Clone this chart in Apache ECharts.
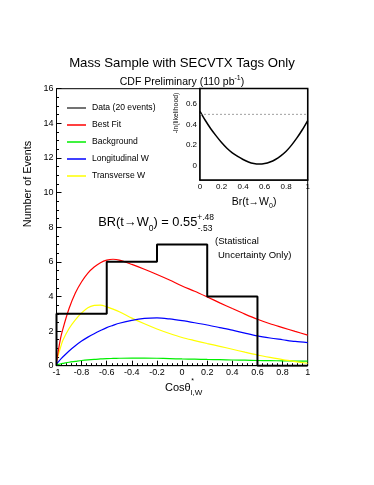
<!DOCTYPE html>
<html><head><meta charset="utf-8">
<script src="https://cdn.jsdelivr.net/npm/echarts@6/dist/echarts.min.js"></script>
<style>html,body{margin:0;padding:0;background:#fff}#c{width:374px;height:485px}</style>
</head><body><div id="c"></div>
<script>
// ---- data ----
const binEdges = [-1, -0.6, -0.2, 0.2, 0.6, 1];
const dataCounts = [3, 6, 7, 4, 0];
const curveX = [-1, -0.97, -0.95, -0.9, -0.85, -0.8, -0.75, -0.7, -0.65, -0.6, -0.55, -0.5, -0.4, -0.3, -0.2, -0.1, 0, 0.1, 0.2, 0.3, 0.4, 0.5, 0.6, 0.7, 0.8, 0.9, 1];
const bestFit = [0.2, 1.5, 2.1, 3.3, 4.2, 4.85, 5.35, 5.7, 5.95, 6.1, 6.15, 6.1, 5.85, 5.57, 5.27, 4.95, 4.6, 4.3, 3.97, 3.63, 3.3, 2.98, 2.68, 2.42, 2.2, 1.98, 1.77];
const background = [0.05, 0.1, 0.13, 0.2, 0.25, 0.3, 0.34, 0.37, 0.39, 0.41, 0.42, 0.43, 0.44, 0.44, 0.43, 0.41, 0.39, 0.38, 0.36, 0.35, 0.33, 0.32, 0.3, 0.29, 0.28, 0.27, 0.26];
const longitudinal = [0.1, 0.35, 0.5, 0.85, 1.15, 1.42, 1.65, 1.85, 2.03, 2.2, 2.33, 2.45, 2.62, 2.73, 2.76, 2.7, 2.6, 2.48, 2.35, 2.2, 2.05, 1.88, 1.72, 1.6, 1.5, 1.4, 1.33];
const transverse = [0.3, 1.0, 1.45, 2.15, 2.65, 3.05, 3.35, 3.48, 3.5, 3.4, 3.27, 3.12, 2.75, 2.42, 2.12, 1.86, 1.63, 1.45, 1.28, 1.12, 0.95, 0.78, 0.62, 0.48, 0.35, 0.24, 0.14];
const likeX = [0, 0.05, 0.1, 0.15, 0.2, 0.25, 0.3, 0.35, 0.4, 0.45, 0.5, 0.55, 0.6, 0.65, 0.7, 0.75, 0.8, 0.85, 0.9, 0.95, 1];
const likeY = [0.53, 0.44, 0.36, 0.29, 0.225, 0.17, 0.125, 0.09, 0.06, 0.035, 0.02, 0.015, 0.02, 0.035, 0.06, 0.095, 0.14, 0.2, 0.27, 0.35, 0.44];
const halfUnitLevel = 0.5;
const insetYLabels = [0, 0.2, 0.4, 0.6];
const insetYMinor = [-0.1, -0.05, 0.05, 0.1, 0.15, 0.25, 0.3, 0.35, 0.45, 0.5, 0.55, 0.65, 0.7];
const legendNames = ['Data (20 events)', 'Best Fit', 'Background', 'Longitudinal W', 'Transverse W'];

// ---- build ----
const histPts = [[binEdges[0], 0]];
dataCounts.forEach((c, i) => { histPts.push([binEdges[i], c]); histPts.push([binEdges[i + 1], c]); });
histPts.push([binEdges[binEdges.length - 1], 0]);
const pair = (xs, ys) => xs.map((x, i) => [x, ys[i]]);

const FONT = '"Liberation Sans", Arial, Helvetica, sans-serif';
const mctx = document.createElement('canvas').getContext('2d');
function tw(t, fs) { mctx.font = fs + 'px ' + FONT; return mctx.measureText(t).width; }
function txt(t, x, y, fs, align, extra) {
  return Object.assign({ type: 'text', x, y, style: { text: t, fontSize: fs, fontFamily: FONT, fill: '#000', textAlign: align || 'left', textVerticalAlign: 'middle' } }, extra || {});
}
// parts: {t, fs, y, hold} ; hold = do not advance (stacked scripts)
function comp(parts, x0, center) {
  let total = 0, hw = 0;
  parts.forEach(p => { const w = tw(p.t, p.fs); if (p.hold) { hw = Math.max(hw, w); } else { total += Math.max(w, hw); hw = 0; } });
  total += hw;
  let x = center ? x0 - total / 2 : x0;
  const out = []; hw = 0;
  parts.forEach(p => {
    const w = tw(p.t, p.fs);
    out.push(txt(p.t, x + (p.dx || 0), p.y, p.fs));
    if (p.hold) { hw = Math.max(hw, w); } else { x += Math.max(w, hw); hw = 0; }
  });
  return out;
}

const chart = echarts.init(document.getElementById('c'), null, { renderer: 'canvas' });

function curve(name, ys, color) {
  return { name, type: 'line', xAxisIndex: 0, yAxisIndex: 0, data: pair(curveX, ys), smooth: 0.3,
    showSymbol: false, symbol: 'none', lineStyle: { color, width: 1.2 }, itemStyle: { color }, z: 3 };
}

const graphics = [
  txt('Mass Sample with SECVTX Tags Only', 182, 63, 13.2, 'center'),
  ...comp([{ t: 'CDF Preliminary (110 pb', fs: 10.5, y: 82 }, { t: '-1', fs: 7, y: 78.5 }, { t: ')', fs: 10.5, y: 82 }], 182, true),
  txt('Number of Events', 28, 184, 10.8, 'center', { rotation: Math.PI / 2 }),
  ...comp([{ t: 'Cosθ', fs: 11, y: 388 }, { t: '*', fs: 7, y: 381.5, hold: true, dx: 0.5 }, { t: 'l,W', fs: 8, y: 392.5 }], 165, false),
  txt('-ln(likelihood)', 176, 113, 6.8, 'center', { rotation: Math.PI / 2 }),
  ...comp([{ t: 'Br(t→W', fs: 10.5, y: 202.5 }, { t: '0', fs: 7, y: 206 }, { t: ')', fs: 10.5, y: 202.5 }], 231.7, false),
  ...comp([{ t: 'BR(t→W', fs: 12.8, y: 222.5 }, { t: '0', fs: 8.5, y: 228.5 }, { t: ') = 0.55', fs: 12.8, y: 222.5 },
            { t: '+.48', fs: 8.5, y: 217.5, hold: true }, { t: '-.53', fs: 8.5, y: 229, dx: 0.5 }], 98.3, false),
  txt('(Statistical', 215, 241.7, 9.5),
  txt('Uncertainty Only)', 218, 255.7, 9.5)
];

const axBase = (extra) => Object.assign({
  type: 'value',
  axisLine: { show: true, onZero: false, lineStyle: { color: '#000', width: 1 } },
  splitLine: { show: false }, minorSplitLine: { show: false }
}, extra);

chart.setOption({
  animation: false,
  backgroundColor: '#fff',
  textStyle: { fontFamily: FONT },
  grid: [
    { left: 56.5, top: 88.7, width: 251.2, height: 277, show: true, borderColor: '#000', borderWidth: 1, outerBoundsMode: 'none', containLabel: false },
    { left: 200, top: 88.5, width: 107.7, height: 91.5, show: true, borderColor: '#000', borderWidth: 1.5, backgroundColor: '#fff', outerBoundsMode: 'none', containLabel: false, z: 5 }
  ],
  legend: {
    left: 62, top: 97, orient: 'vertical', icon: 'rect', itemWidth: 19, itemHeight: 1.5, itemGap: 5,
    data: legendNames.map((n, i) => ({ name: n, itemStyle: i === 0 ? { color: '#444' } : undefined })),
    textStyle: { fontSize: 8.6, color: '#000', fontFamily: FONT, lineHeight: 12, padding: [0, 0, 0, 1] },
    selectedMode: false
  },
  xAxis: [
    axBase({ gridIndex: 0, min: -1, max: 1, interval: 0.2,
      axisTick: { show: true, inside: true, length: 5, lineStyle: { color: '#000' } },
      minorTick: { show: true, splitNumber: 5, length: 2.5, lineStyle: { color: '#000' } },
      axisLabel: { fontSize: 9, color: '#000', margin: 2, showMinLabel: true, showMaxLabel: true, fontFamily: FONT } }),
    axBase({ gridIndex: 1, min: 0, max: 1, interval: 0.2,
      axisLine: { show: true, onZero: false, lineStyle: { color: '#000', width: 1.5 } },
      axisTick: { show: true, inside: true, length: 4, lineStyle: { color: '#000' } },
      minorTick: { show: true, splitNumber: 5, length: 2, lineStyle: { color: '#000' } },
      axisLabel: { fontSize: 8, color: '#000', margin: 3, showMinLabel: true, showMaxLabel: true, fontFamily: FONT } })
  ],
  yAxis: [
    axBase({ gridIndex: 0, min: 0, max: 16, interval: 2,
      axisTick: { show: true, inside: true, length: 5, lineStyle: { color: '#000' } },
      minorTick: { show: true, splitNumber: 4, length: 2.5, lineStyle: { color: '#000' } },
      axisLabel: { fontSize: 9, color: '#000', margin: 3, showMinLabel: true, showMaxLabel: true, fontFamily: FONT } }),
    axBase({ gridIndex: 1, min: -0.14, max: 0.752, position: 'left',
      axisLine: { show: true, onZero: false, lineStyle: { color: '#000', width: 1.5 } },
      axisTick: { show: true, inside: true, length: 4, customValues: insetYLabels, lineStyle: { color: '#000' } },
      axisLabel: { fontSize: 8, color: '#000', margin: 3, customValues: insetYLabels, fontFamily: FONT } }),
    axBase({ gridIndex: 1, min: -0.14, max: 0.752, position: 'left',
      axisLine: { show: false, onZero: false },
      axisTick: { show: true, inside: true, length: 2, customValues: insetYMinor, lineStyle: { color: '#000' } },
      axisLabel: { show: false } })
  ],
  series: [
    curve('Background', background, '#00ee00'),
    curve('Transverse W', transverse, '#ffff00'),
    curve('Longitudinal W', longitudinal, '#0000ff'),
    curve('Best Fit', bestFit, '#ff0000'),
    { name: 'Data (20 events)', type: 'line', xAxisIndex: 0, yAxisIndex: 0, data: histPts, showSymbol: false, symbol: 'none',
      lineStyle: { color: '#000', width: 2 }, itemStyle: { color: '#000' }, z: 4 },
    { name: 'likelihood', type: 'line', xAxisIndex: 1, yAxisIndex: 1, data: pair(likeX, likeY), smooth: 0.3, showSymbol: false, symbol: 'none',
      lineStyle: { color: '#000', width: 1.5 }, z: 6 },
    { name: 'half', type: 'line', xAxisIndex: 1, yAxisIndex: 1, data: [[0, halfUnitLevel], [1, halfUnitLevel]], showSymbol: false, symbol: 'none',
      lineStyle: { color: '#888', width: 0.8, type: [2, 2] }, z: 6 }
  ],
  graphic: graphics
});
</script>
</body></html>
